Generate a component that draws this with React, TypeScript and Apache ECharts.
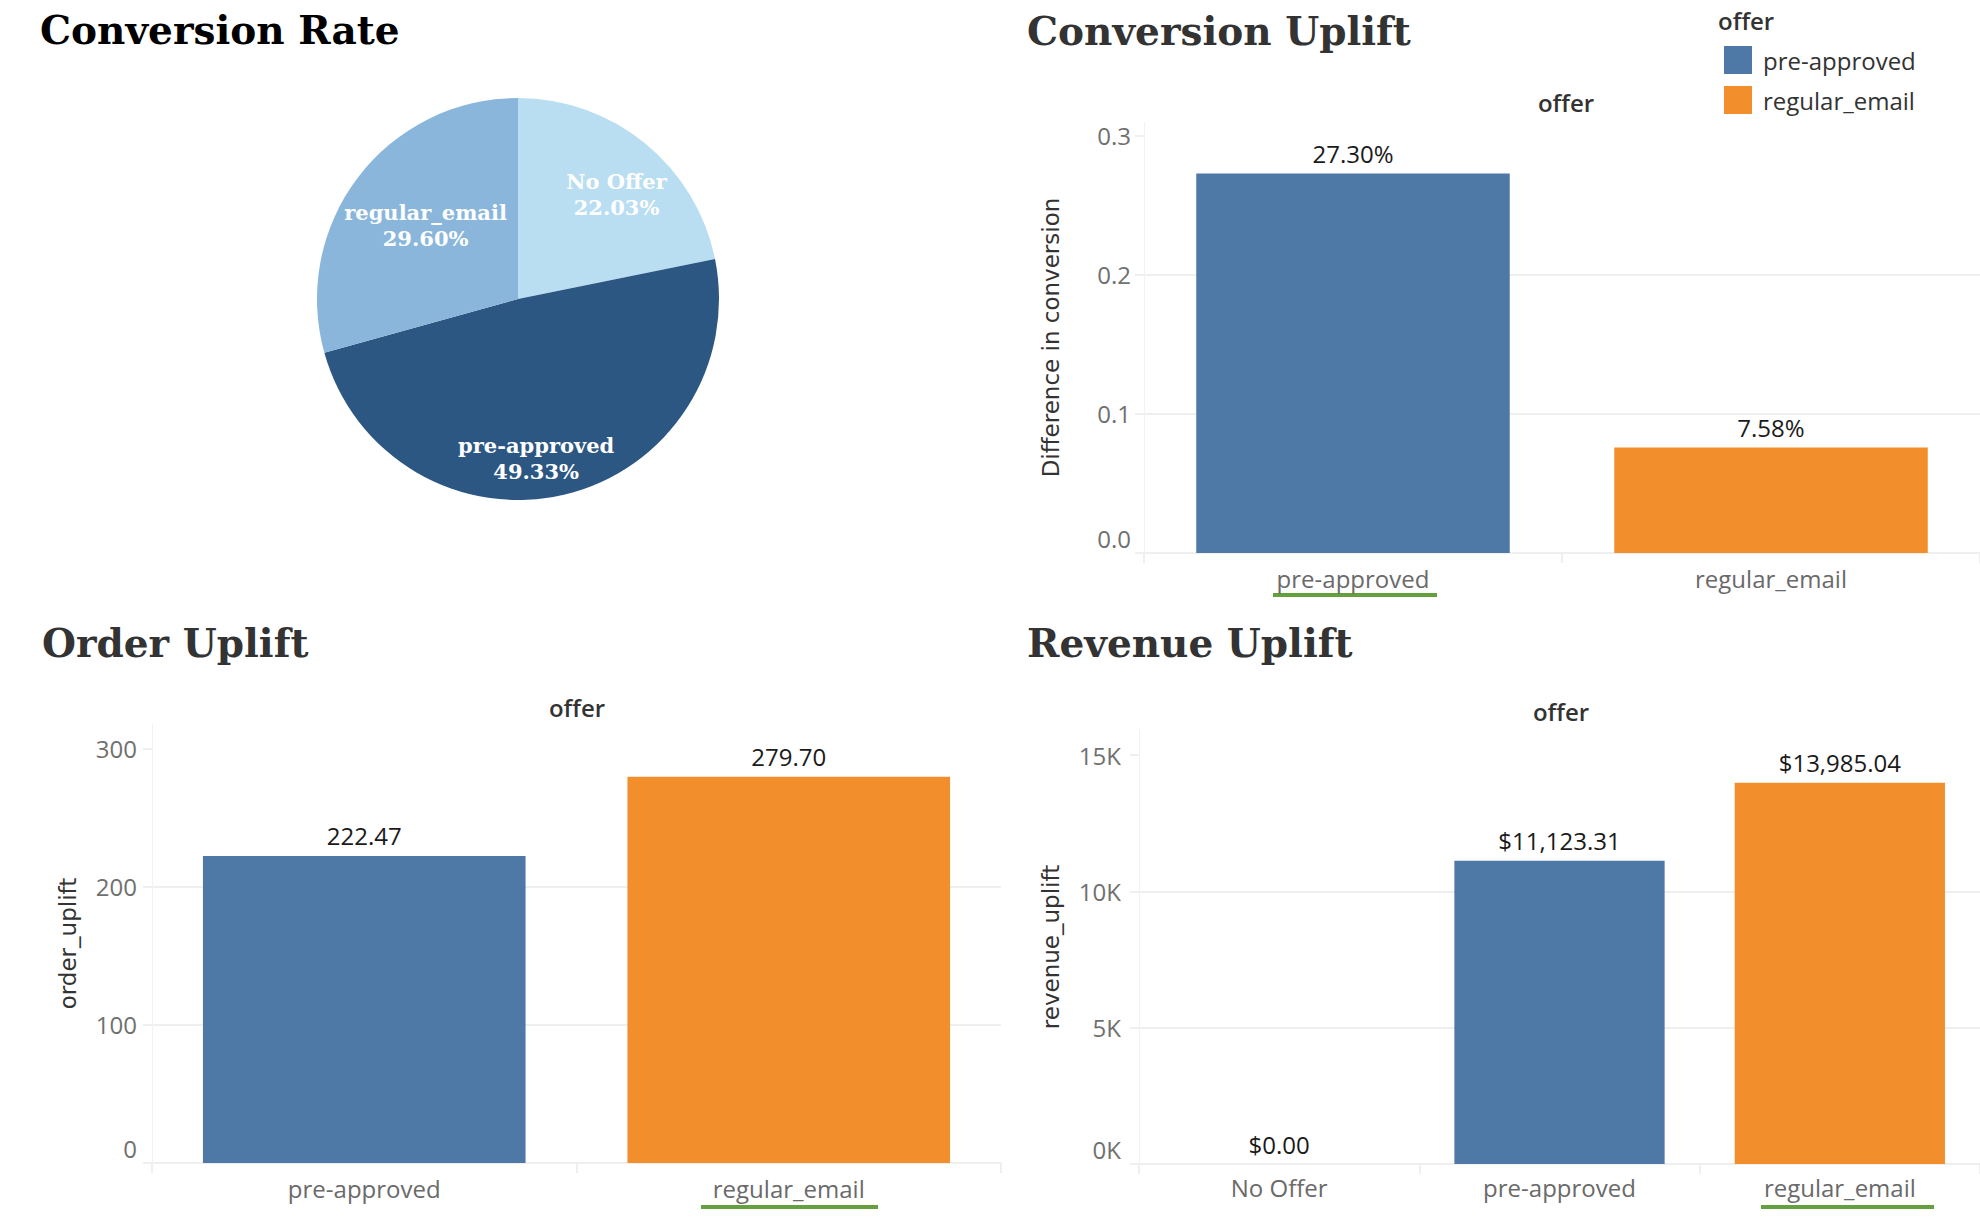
import React, { useEffect, useRef } from "react";
import * as echarts from "echarts";

const pieCategories = ["No Offer", "pre-approved", "regular_email"];
const conversionRates = [0.2203, 0.4933, 0.296];
const pieColors = ["#b9ddf1", "#2c5783", "#89b6da"];

const upliftCategories = ["pre-approved", "regular_email"];
const conversionUplift = [0.273, 0.0758];
const orderUplift = [222.47, 279.7];

const revenueCategories = ["No Offer", "pre-approved", "regular_email"];
const revenueUplift = [0, 11123.31, 13985.04];

const convTicks = [0, 0.1, 0.2, 0.3];
const orderTicks = [0, 100, 200, 300];
const revenueTicks = [0, 5000, 10000, 15000];

const barColors: Record<string, string> = {
  "No Offer": "#9fa0a4",
  "pre-approved": "#4e79a7",
  "regular_email": "#f28e2b",
};

const SANS = "'Open Sans', 'Noto Sans', sans-serif";
const SERIF = "'DejaVu Serif', Georgia, serif";

function makeBars(cats: string[], vals: number[], gridIdx: number, stack: string, fmt: (v: number) => string, width: string) {
  return cats.map((c, i) => ({
    type: "bar",
    name: c,
    xAxisIndex: gridIdx,
    yAxisIndex: gridIdx,
    stack,
    barWidth: width,
    data: cats.map((_, j) => (j === i ? vals[i] : "-")),
    itemStyle: { color: barColors[c] },
    label: {
      show: true,
      position: "top",
      distance: 8,
      formatter: (p: any) => fmt(p.value),
      fontFamily: SANS,
      fontSize: 24,
      color: "#1a1a1a",
    },
  }));
}

function xAxisFor(cats: string[], gridIndex: number, margin: number) {
  return {
    type: "category",
    gridIndex,
    data: cats,
    axisLine: { show: true, lineStyle: { color: "#efefef", width: 2 } },
    axisTick: { show: true, length: 10, lineStyle: { color: "#efefef", width: 2 } },
    axisLabel: { fontFamily: SANS, fontSize: 24, color: "#6a6a6a", margin },
    splitLine: { show: false },
  };
}

function yAxisFor(gridIndex: number, max: number, interval: number, ticks: number[], fmt: (v: number) => string, name: string, nameGap: number, margin: number) {
  return {
    type: "value",
    gridIndex,
    min: 0,
    max,
    interval,
    name,
    nameLocation: "middle",
    nameRotate: 90,
    nameGap,
    nameTextStyle: { fontFamily: "'DejaVu Sans', sans-serif", fontSize: 23, color: "#333" },
    axisLine: { show: true, lineStyle: { color: "#f2f2f2", width: 1 } },
    axisTick: { show: true, length: 9, customValues: ticks, lineStyle: { color: "#efefef", width: 2 } },
    splitLine: { show: true, showMaxLine: false, lineStyle: { color: "#efefef", width: 2 } },
    axisLabel: {
      customValues: ticks,
      margin,
      fontFamily: SANS,
      fontSize: 24,
      color: "#707070",
      formatter: (v: number) => (v === 0 ? `{z|${fmt(v)}}` : fmt(v)),
      rich: { z: { padding: [0, 0, 30, 0], fontFamily: SANS, fontSize: 24, color: "#707070" } },
    },
  };
}

export default function App() {
  const ref = useRef<HTMLDivElement>(null);
  useEffect(() => {
    if (!ref.current) return;
    const chart = echarts.init(ref.current, undefined, { renderer: "svg" });
    const pct = (v: number) => (v * 100).toFixed(2) + "%";
    const dec = (v: number) => v.toFixed(2);
    const usd = (v: number) => "$" + v.toLocaleString("en-US", { minimumFractionDigits: 2, maximumFractionDigits: 2 });
    const pieNudge = [
      [33, -24],
      [-6, 59],
      [-10, -11],
    ];

    const titleStyle = (color: string) => ({ fontFamily: SERIF, fontWeight: "bold", fontSize: 39, color });
    const option: any = {
      animation: false,
      backgroundColor: "#fff",
      title: [
        { text: "Conversion Rate", left: 40, top: 10, padding: 0, textStyle: titleStyle("#000") },
        { text: "Conversion Uplift", left: 1027, top: 11, padding: 0, textStyle: titleStyle("#333") },
        { text: "Order Uplift", left: 42, top: 623, padding: 0, textStyle: titleStyle("#333") },
        { text: "Revenue Uplift", left: 1027, top: 623, padding: 0, textStyle: titleStyle("#333") },
      ],
      legend: {
        orient: "vertical",
        left: 1724,
        top: 46,
        padding: 0,
        itemWidth: 28,
        itemHeight: 28,
        itemGap: 12,
        icon: "rect",
        data: upliftCategories,
        textStyle: { fontFamily: SANS, fontSize: 24, color: "#333", padding: [0, 0, 0, 6] },
      },
      graphic: [
        { type: "text", x: 1718, y: 20, style: { text: "offer", font: `600 24px ${SANS}`, fill: "#333", textVerticalAlign: "middle" } },
        { type: "text", x: 1566, y: 102, style: { text: "offer", font: `600 24px ${SANS}`, fill: "#333", textAlign: "center", textVerticalAlign: "middle" } },
        { type: "text", x: 577, y: 707, style: { text: "offer", font: `600 24px ${SANS}`, fill: "#333", textAlign: "center", textVerticalAlign: "middle" } },
        { type: "text", x: 1561, y: 711, style: { text: "offer", font: `600 24px ${SANS}`, fill: "#333", textAlign: "center", textVerticalAlign: "middle" } },
        { type: "rect", shape: { x: 1273, y: 593, width: 164, height: 4 }, style: { fill: "#65a03f" } },
        { type: "rect", shape: { x: 701, y: 1205, width: 177, height: 4 }, style: { fill: "#65a03f" } },
        { type: "rect", shape: { x: 1761, y: 1205, width: 173, height: 4 }, style: { fill: "#65a03f" } },
      ],
      grid: [
        { left: 1144, top: 122, width: 846, height: 431 },
        { left: 152, top: 724, width: 849, height: 439 },
        { left: 1139, top: 730, width: 852, height: 434 },
      ],
      xAxis: [
        xAxisFor(upliftCategories, 0, 13),
        xAxisFor(upliftCategories, 1, 13),
        xAxisFor(revenueCategories, 2, 11),
      ],
      yAxis: [
        yAxisFor(0, 0.31, 0.1, convTicks, (v) => v.toFixed(1), "Difference in conversion", 82, 13),
        yAxisFor(1, 318, 100, orderTicks, (v) => String(v), "order_uplift", 73, 15),
        yAxisFor(2, 15917, 5000, revenueTicks, (v) => v / 1000 + "K", "revenue_uplift", 77, 18),
      ],
      series: [
        {
          type: "pie",
          center: [518, 299],
          radius: [0, 201],
          startAngle: 90,
          clockwise: true,
          silent: true,
          data: pieCategories.map((c, i) => ({ name: c, value: conversionRates[i], itemStyle: { color: pieColors[i] } })),
          label: {
            show: true,
            position: "inside",
            formatter: (p: any) => `${p.name}\n${pct(p.value)}`,
            fontFamily: SERIF,
            fontWeight: "bold",
            fontSize: 21,
            lineHeight: 26,
            color: "#fff",
          },
          labelLine: { show: false },
          labelLayout: (p: any) => ({ dx: pieNudge[p.dataIndex][0], dy: pieNudge[p.dataIndex][1] }),
        },
        ...makeBars(upliftCategories, conversionUplift, 0, "conv", pct, "75%"),
        ...makeBars(upliftCategories, orderUplift, 1, "order", dec, "76%"),
        ...makeBars(revenueCategories, revenueUplift, 2, "rev", usd, "75%"),
      ],
    };
    chart.setOption(option);
    return () => chart.dispose();
  }, []);
  return <div ref={ref} style={{ position: "fixed", left: 0, top: 0, width: 1980, height: 1228 }} />;
}
